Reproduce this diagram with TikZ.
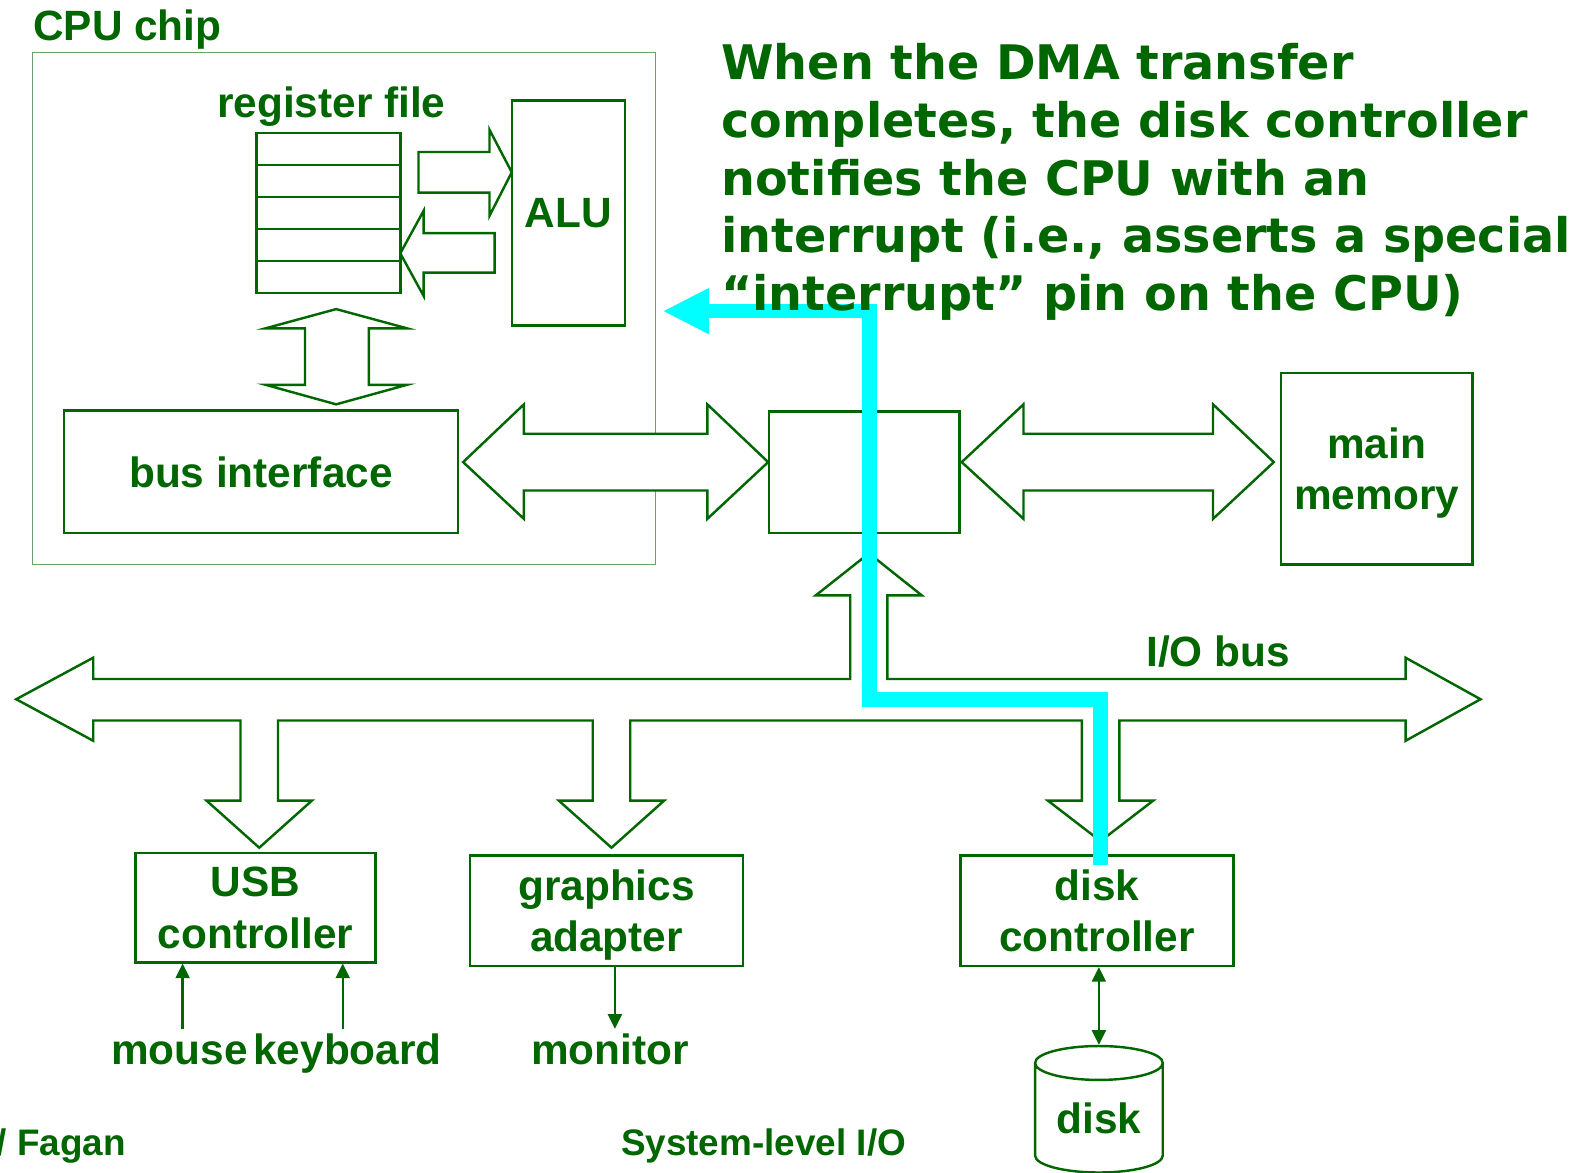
\documentclass[tikz,border=0pt]{standalone}
\usepackage{fontspec}
\setmainfont{Liberation Sans}
\newfontfamily\dmafont{DejaVu Sans}
\usetikzlibrary{arrows.meta,shapes.geometric}
\definecolor{dkgreen}{RGB}{0,102,0}
\definecolor{chipgreen}{RGB}{110,160,110}
\definecolor{irqcyan}{RGB}{0,255,255}

\begin{document}
\begin{tikzpicture}[x=0.25pt, y=-0.25pt, line join=miter,
    every node/.style={text=dkgreen, font=\bfseries\fontsize{10.45pt}{12.7pt}\selectfont},
    unit/.style={draw=dkgreen, line width=0.6pt, align=center, inner sep=0pt, text depth=0pt},
    fat/.style={draw=dkgreen, line width=0.6pt, fill=white},
    thin/.style={dkgreen, line width=0.6pt},
    tag/.style={anchor=base, text height=0.75em, text depth=0.2em, inner sep=1pt},
    foot/.style={anchor=base west, inner sep=0pt, font=\bfseries\fontsize{9.1pt}{11pt}\selectfont},
    irq/.style={irqcyan, line width=3.6pt, -{Triangle[length=11.2pt,width=11.5pt,line width=0pt]}},
    >={Triangle[length=3.6pt,width=3.4pt]}]
\useasboundingbox (0,0) rectangle (1568,1157);

% CPU chip
\draw[chipgreen, line width=0.35pt] (32,52) rectangle (647,557);
\node[anchor=base west, inner sep=0pt] (chip) at (32,40) {CPU chip};
\node[anchor=base] (regfile) at (327,116) {register file};
\foreach \r in {0,...,4}
    \draw[thin] (253,131.5+31.5*\r) rectangle ++(142,31.5);
\node[unit, minimum width=28pt, minimum height=55.5pt] (alu) at (561,210) {ALU};
\node[unit, minimum width=97.25pt, minimum height=30.25pt] (busif) at (257.5,465.5) {bus interface};

\draw[fat] (413,150) -- (483,150) -- (483,128) -- (505,170) -- (483,213)
    -- (483,190) -- (413,190) -- cycle;
\draw[fat] (488,230) -- (418,230) -- (418,208) -- (395,250) -- (418,292)
    -- (418,269) -- (488,269) -- cycle;
\draw[fat] (331.7,305) -- (401.7,324) -- (364,324) -- (364,379.7) -- (401.7,379.7)
    -- (331.7,399) -- (262,379.7) -- (301,379.7) -- (301,324) -- (262,324) -- cycle;

% bridge and memory
\node[unit, minimum width=47pt, minimum height=30pt] (bridge) at (853,466) {};
\node[unit, minimum width=47.25pt, minimum height=47.25pt] (mem) at (1358.5,462.5) {main\\memory};
\draw[fat] (457,456) -- (517,399) -- (517,428) -- (698,428) -- (698,399) -- (758,456)
    -- (698,512) -- (698,484) -- (517,484) -- (517,512) -- cycle;
\draw[fat] (949,456) -- (1010,399) -- (1010,428) -- (1197,428) -- (1197,399) -- (1257,456)
    -- (1197,512) -- (1197,484) -- (1010,484) -- (1010,512) -- cycle;

% I/O bus
\draw[fat] (16,690) -- (92,649) -- (92,670) -- (839,670) -- (839,587.5) -- (805,587.5)
    -- (857.5,546) -- (909.6,587.5) -- (875.6,587.5) -- (875.6,670) -- (1387,670)
    -- (1387,649) -- (1461,690) -- (1387,731) -- (1387,711)
    \foreach \bx/\tip in {1086/830, 603.4/836.5, 255.8/836.5} {
        -- (\bx+18.5,711) -- (\bx+18.5,790) -- (\bx+52,790) -- (\bx,\tip)
        -- (\bx-52,790) -- (\bx-18.5,790) -- (\bx-18.5,711)
    }
    -- (92,711) -- (92,731) -- cycle;
\node[anchor=base] (iobus) at (1202,658) {I/O bus};

% devices
\node[unit, minimum width=59.25pt, minimum height=27pt] (usb) at (252,895.6) {USB\\controller};
\node[unit, minimum width=67.25pt, minimum height=27.25pt] (gfx) at (598.5,898.5) {graphics\\adapter};
\node[unit, minimum width=67.25pt, minimum height=27.25pt] (diskctl) at (1082.5,898.5) {disk\\controller};
\node[tag] (mouse) at (177,1050) {mouse};
\node[tag] (kbd) at (343,1050) {keyboard};
\node[tag] (monitor) at (602,1050) {monitor};
\node[draw=dkgreen, line width=0.6pt, cylinder, shape border rotate=90, aspect=0.4,
    minimum width=31.5pt, minimum height=31.2pt, inner sep=0pt, anchor=north] (disk) at (1084.4,1031) {disk};

\draw[thin, ->] ([xshift=0.8pt]mouse.north) -- ([xshift=0.8pt]mouse.north |- usb.south);
\draw[thin, ->] ([xshift=-1.2pt]kbd.north) -- ([xshift=-1.2pt]kbd.north |- usb.south);
\draw[thin, ->] ([xshift=1.2pt]monitor.north |- gfx.south) -- ([xshift=1.2pt]monitor.north);
\draw[thin, <->] (disk.north |- diskctl.south) -- (disk.north);

% interrupt
\draw[irq] (1086,854) -- (1086,690) -- (858,690) -- (858,307) -- (655,307);
\node[anchor=north west, inner sep=0pt, align=left,
    font=\dmafont\bfseries\fontsize{11.75pt}{14.25pt}\selectfont] (note) at (711,42)
    {When the DMA transfer\\completes, the disk controller\\notifies the CPU with an\\
     interrupt (i.e., asserts a special\\“interrupt” pin on the CPU)};

\node[foot] (fagan) at (-4,1140) {/ Fagan};
\node[foot] (title) at (612,1140) {System-level I/O};
\end{tikzpicture}
\end{document}
